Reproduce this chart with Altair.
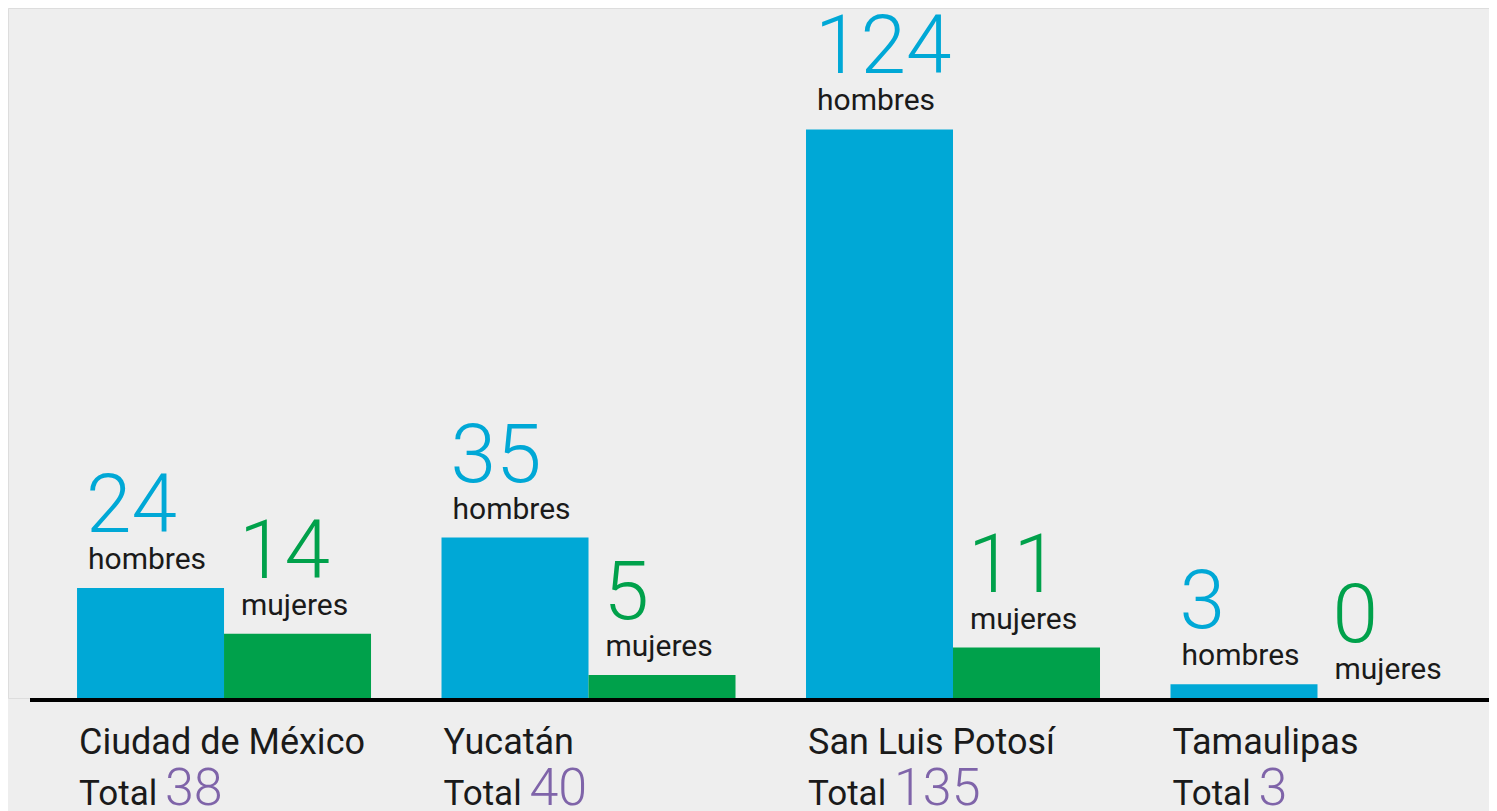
import altair as alt
import pandas as pd

estados = ["Ciudad de México", "Yucatán", "San Luis Potosí", "Tamaulipas"]
hombres = [24, 35, 124, 3]
mujeres = [14, 5, 11, 0]
totales = [38, 40, 135, 3]
sexos = ["hombres", "mujeres"]

AZUL = "#00A8D6"
VERDE = "#00A14B"
MORADO = "#7F64A9"
FONDO = "#EEEEEE"
TINTA = "#1A1A1A"

rows = []
for e, h, m in zip(estados, hombres, mujeres):
    rows.append({"estado": e, "sexo": "hombres", "valor": h})
    rows.append({"estado": e, "sexo": "mujeres", "valor": m})
df = pd.DataFrame(rows)
df_tot = pd.DataFrame({"estado": estados, "total": totales, "lbl": ["Total"] * 4})

W, H = 1481, 690
HALF_GROUP = 147
HALF_BAR = 73.5

xs = alt.Scale(paddingInner=0.1934, paddingOuter=0.1283, align=0.738)
x = alt.X("estado:N", sort=estados, axis=None, scale=xs)
xo = alt.XOffset("sexo:N", sort=sexos, scale=alt.Scale(domain=sexos, paddingInner=0, paddingOuter=0))
y = alt.Y("valor:Q", axis=None, scale=alt.Scale(domain=[0, 150.5], nice=False, zero=True))
color = alt.Color("sexo:N", scale=alt.Scale(domain=sexos, range=[AZUL, VERDE]), legend=None)

base = alt.Chart(df).encode(x=x, xOffset=xo, y=y)
bars = base.mark_bar().encode(color=color)

layers = [bars]
for s, col, off in [("hombres", AZUL, 11), ("mujeres", VERDE, 17)]:
    sub = base.transform_filter(alt.datum.sexo == s)
    num = sub.mark_text(align="left", baseline="alphabetic", dx=-HALF_BAR + off - 2, dy=-56,
                        font="Roboto", fontWeight=300, fontSize=82, color=col).encode(text="valor:Q")
    lab = sub.mark_text(align="left", baseline="alphabetic", dx=-HALF_BAR + off, dy=-19,
                        font="Roboto", fontWeight=400, fontSize=30, color=TINTA).encode(text="sexo:N")
    layers += [num, lab]

rule = alt.Chart(df_tot).mark_rule(color="#000000", strokeWidth=4, yOffset=2).encode(
    x=alt.value(22), x2=alt.value(W), y=alt.datum(0))

tb = alt.Chart(df_tot).encode(x=alt.X("estado:N", sort=estados))
nombre = tb.mark_text(align="left", baseline="alphabetic", dx=-HALF_GROUP + 2,
                      font="Roboto", fontSize=36, color=TINTA).encode(y=alt.value(746), text="estado:N")
total_lbl = tb.mark_text(align="left", baseline="alphabetic", dx=-HALF_GROUP + 2,
                         font="Roboto", fontSize=35, color=TINTA).encode(y=alt.value(797), text="lbl:N")
total_num = tb.mark_text(align="left", baseline="alphabetic", dx=-HALF_GROUP + 88,
                         font="Roboto", fontWeight=300, fontSize=52, color=MORADO).encode(y=alt.value(797), text="total:Q")

chart = alt.layer(*layers, rule, nombre, total_lbl, total_num).properties(
    width=W, height=H,
    padding={"left": 0, "top": 0, "right": 0, "bottom": 113},
    autosize=alt.AutoSizeParams(type="none"),
).configure_view(stroke=None).configure(background=FONDO)

chart.save("out.html", embed_options={"renderer": "svg", "actions": False})
